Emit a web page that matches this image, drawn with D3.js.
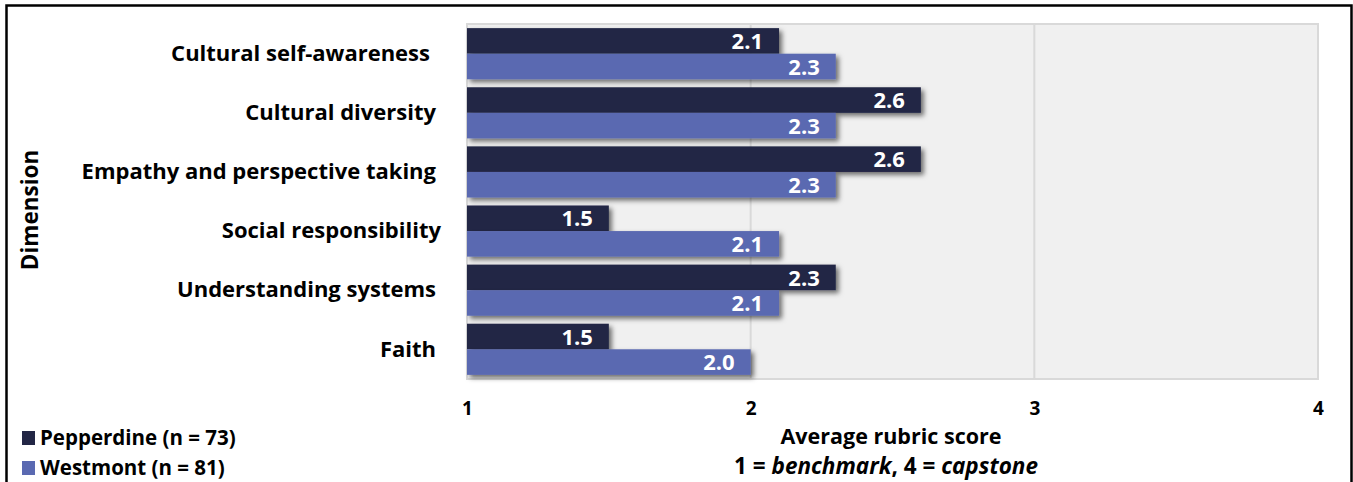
<!DOCTYPE html>
<html>
<head>
<meta charset="utf-8">
<script src="https://cdn.jsdelivr.net/npm/d3@7"></script>
<style>
  body { margin: 0; background: #fff; }
  svg text { font-family: "Open Sans", Lato, sans-serif; font-weight: bold; white-space: pre; }
</style>
</head>
<body>
<svg id="chart" width="1353" height="482"></svg>
<script>
"use strict";

// data
var categories = ["Cultural self-awareness", "Cultural diversity", "Empathy and perspective taking",
  "Social responsibility", "Understanding systems", "Faith"];
var labelGap = [11, 5, 5, 0, 5, 5]; // trailing blank after some labels in the original
var pepperdine = [2.1, 2.6, 2.6, 1.5, 2.3, 1.5];
var westmont = [2.3, 2.3, 2.3, 2.1, 2.1, 2.0];
var seriesNames = ["Pepperdine (n = 73)", "Westmont (n = 81)"];
var xTicks = [1, 2, 3, 4];

var colors = ["#222645", "#5a69b1"];

var svg = d3.select("#chart"),
  margin = {top: 24, left: 467, right: 35, bottom: 103},
  width = 1353 - margin.left - margin.right,
  height = 482 - margin.top - margin.bottom
;

var defs = svg.append("defs");
defs.append("filter")
  .attr("id", "shadow")
  .attr("x", "-10%").attr("y", "-50%").attr("width", "130%").attr("height", "220%")
  .append("feDropShadow")
  .attr("dx", 3).attr("dy", 3)
  .attr("stdDeviation", 2.5)
  .attr("flood-color", "#000")
  .attr("flood-opacity", 0.55);

// outer frame
svg.append("rect")
  .attr("x", 6.5).attr("y", 5.5)
  .attr("width", 1345).attr("height", 490)
  .attr("fill", "none")
  .attr("stroke", "#000")
  .attr("stroke-width", 2.5);

var x = d3.scaleLinear().domain([1, 4]).range([0, width]),
  y = d3.scaleBand().domain(categories).range([0, height]).paddingInner(0.135).paddingOuter(0.07),
  g = svg.append("g").attr("transform", "translate(" + margin.left + "," + margin.top + ")");

// plot background
g.append("rect")
  .attr("width", width).attr("height", height)
  .attr("fill", "#f0f0f0")
  .attr("stroke", "#d9d9d9")
  .attr("stroke-width", 2);

// grid
g.append("g")
  .selectAll("line")
  .data(xTicks.slice(1, -1))
  .enter().append("line")
  .attr("x1", function(d) { return x(d); })
  .attr("x2", function(d) { return x(d); })
  .attr("y1", 0).attr("y2", height)
  .attr("stroke", "#d9d9d9")
  .attr("stroke-width", 2);

var bh = y.bandwidth() / 2;

var rows = categories.map(function(c, i) {
  return {cat: c, vals: [pepperdine[i], westmont[i]]};
});

var groups = g.selectAll(".grp")
  .data(rows)
  .enter().append("g")
  .attr("class", "grp")
  .attr("transform", function(d) { return "translate(0," + y(d.cat) + ")"; });

groups.selectAll("rect")
  .data(function(d) { return d.vals; })
  .enter().append("rect")
  .attr("x", 0)
  .attr("y", function(d, i) { return i * bh; })
  .attr("width", function(d) { return x(d) - x(1); })
  .attr("height", bh)
  .attr("fill", function(d, i) { return colors[i]; })
  .attr("filter", "url(#shadow)");

groups.selectAll("text.val")
  .data(function(d) { return d.vals; })
  .enter().append("text")
  .attr("class", "val")
  .attr("x", function(d) { return x(d) - 16; })
  .attr("y", function(d, i) { return i * bh + bh / 2; })
  .attr("dy", "0.37em")
  .attr("text-anchor", "end")
  .attr("fill", "#fff")
  .style("font-size", "22px")
  .text(function(d) { return d3.format(".1f")(d); });

// category labels
svg.append("g")
  .selectAll("text")
  .data(categories)
  .enter().append("text")
  .attr("x", function(d, i) { return 441 - labelGap[i]; })
  .attr("y", function(d) { return margin.top + y(d) + y.bandwidth() / 2; })
  .attr("dy", "0.33em")
  .attr("text-anchor", "end")
  .attr("fill", "#000")
  .style("font-size", "22px")
  .text(function(d) { return d; });

// x axis
var xAxis = svg.append("g")
  .attr("transform", "translate(" + margin.left + "," + (margin.top + height) + ")")
  .call(d3.axisBottom(x).tickValues(xTicks).tickSize(0).tickPadding(23).tickFormat(d3.format("d")));
xAxis.select(".domain").remove();
xAxis.selectAll("text")
  .attr("fill", "#000")
  .style("font-size", "19px")
  .style("font-family", "'Open Sans', sans-serif");

svg.append("text")
  .attr("x", 891).attr("y", 444)
  .attr("text-anchor", "middle")
  .style("font-size", "21.5px")
  .text("Average rubric score");

var sub = svg.append("text")
  .attr("x", 886).attr("y", 474)
  .attr("text-anchor", "middle")
  .style("font-size", "22.5px");
sub.append("tspan").text("1 = ");
sub.append("tspan").style("font-style", "italic").text("benchmark");
sub.append("tspan").text(", 4 = ");
sub.append("tspan").style("font-style", "italic").text("capstone");

// y axis title
svg.append("text")
  .attr("transform", "translate(38,210) rotate(-90)")
  .attr("text-anchor", "middle")
  .style("font-size", "22.5px")
  .text("Dimension");

// legend
var leg = svg.append("g")
  .selectAll("g")
  .data(seriesNames)
  .enter().append("g")
  .attr("transform", function(d, i) { return "translate(22," + (431 + i * 30) + ")"; });
leg.append("rect")
  .attr("width", 13).attr("height", 14)
  .attr("fill", function(d, i) { return colors[i]; });
leg.append("text")
  .attr("x", 18).attr("y", 7)
  .attr("dy", "0.36em")
  .style("font-size", "20.5px")
  .text(function(d) { return d; });
</script>
</body>
</html>
